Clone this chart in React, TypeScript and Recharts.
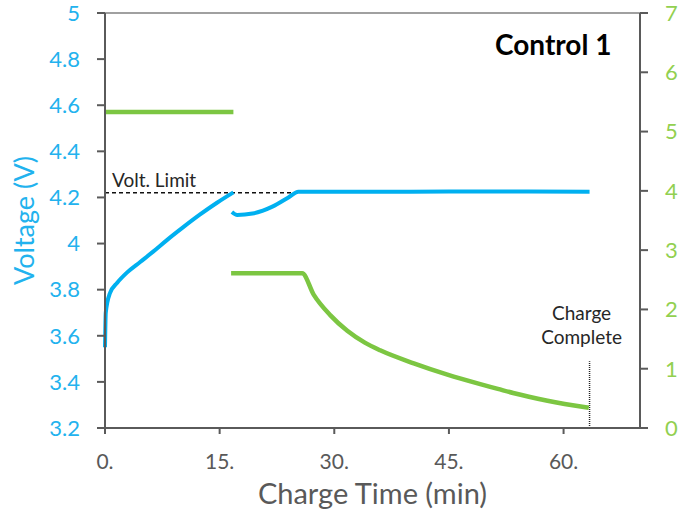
import { LineChart, Line, XAxis, YAxis, ReferenceLine } from 'recharts';

// charge time (min) / voltage (V), constant-current phase
const ccTime = [0, 0.1, 0.65, 1.6, 2.9, 4.6, 6.3, 8.1, 10.2, 12.4, 14.7, 16.8];
const ccVolt = [3.55, 3.7, 3.785, 3.83, 3.875, 3.92, 3.965, 4.015, 4.07, 4.125, 4.178, 4.222];

// second step, rises back to the limit then holds
const cvTime = [16.6, 17.3, 19.3, 21.9, 24.0, 25.3, 30, 40, 50, 55, 63.4];
const cvVolt = [4.137, 4.124, 4.13, 4.16, 4.2, 4.225, 4.225, 4.225, 4.226, 4.226, 4.225];

// current (right axis)
const i1Time = [0, 16.8];
const i1Amp = [5.33, 5.33];
const i2Time = [16.5, 25.8, 27.3, 29.5, 31.7, 34.0, 36.0, 40.4, 44.8, 49.1, 51.4, 53.4, 57.9, 63.3];
const i2Amp = [2.61, 2.61, 2.25, 1.9, 1.64, 1.44, 1.31, 1.09, 0.9, 0.74, 0.66, 0.59, 0.46, 0.34];

const xTicks = [0, 15, 30, 45, 60];
const voltTicks = [3.2, 3.4, 3.6, 3.8, 4, 4.2, 4.4, 4.6, 4.8, 5];
const ampTicks = [0, 1, 2, 3, 4, 5, 6, 7];

const voltLimit = 4.22;
const voltLimitEnd = 25.5;
const completeTime = 63.4;
const completeTop = 3.49;

const BLUE = '#00b0f0';
const BLUE_TXT = '#22b2ee';
const GREEN = '#7cc642';
const GREEN_TXT = '#92d050';
const AXIS = '#5a5a5a';
const FONT = 'Lato, "Open Sans", sans-serif';

const zip = (xs: number[], ys: number[]) => xs.map((t, i) => ({ t, y: ys[i] }));

export default function App() {
  return (
    <div style={{ position: 'absolute', left: 0, top: 0, width: 680, height: 519, background: '#fff' }}>
      <LineChart
        width={680}
        height={519}
        margin={{ top: 13, right: 0, bottom: 0, left: 0 }}
        style={{ fontFamily: FONT }}
      >
        <XAxis
          type="number"
          dataKey="t"
          domain={[0, 70]}
          ticks={xTicks}
          tickFormatter={(v) => `${v}.`}
          height={91}
          tickSize={6}
          tickMargin={20}
          axisLine={{ stroke: AXIS, strokeWidth: 2 }}
          tickLine={{ stroke: AXIS, strokeWidth: 2 }}
          tick={{ fill: '#595959', fontSize: 21 }}
          label={{ value: 'Charge Time (min)', position: 'insideBottom', offset: 15, fill: '#595959', fontSize: 29 }}
        />
        <YAxis
          yAxisId="left"
          type="number"
          domain={[3.2, 5]}
          ticks={voltTicks}
          tickFormatter={(v) => `${Math.round(v * 10) / 10}`}
          width={105}
          tickSize={8}
          tickMargin={17}
          axisLine={{ stroke: AXIS, strokeWidth: 2 }}
          tickLine={{ stroke: AXIS, strokeWidth: 2 }}
          tick={{ fill: BLUE_TXT, fontSize: 22 }}
          label={{
            value: 'Voltage (V)',
            angle: -90,
            position: 'insideLeft',
            offset: 24,
            fill: BLUE_TXT,
            fontSize: 27,
            style: { textAnchor: 'middle' },
          }}
        />
        <YAxis
          yAxisId="right"
          orientation="right"
          type="number"
          domain={[0, 7]}
          ticks={ampTicks}
          width={40}
          tickSize={8}
          tickMargin={17}
          axisLine={{ stroke: AXIS, strokeWidth: 2 }}
          tickLine={{ stroke: AXIS, strokeWidth: 2 }}
          tick={{ fill: GREEN_TXT, fontSize: 22, textAnchor: 'start' }}
        />

        <ReferenceLine yAxisId="left" y={5} stroke="#a0a0a0" strokeWidth={2} />

        <ReferenceLine
          yAxisId="left"
          segment={[{ x: 0, y: voltLimit }, { x: voltLimitEnd, y: voltLimit }]}
          stroke="#111"
          strokeWidth={1.5}
          strokeDasharray="4 3"
          label={(p: any) => (
            <text x={p.viewBox.x + 7} y={p.viewBox.y - 6} fontSize={19} fill="#262626" fontFamily={FONT}>
              Volt. Limit
            </text>
          )}
        />

        <ReferenceLine
          yAxisId="left"
          segment={[{ x: completeTime, y: 3.2 }, { x: completeTime, y: completeTop }]}
          stroke="#222"
          strokeWidth={1.5}
          strokeDasharray="1 1"
          label={(p: any) => (
            <text x={p.viewBox.x - 8} y={p.viewBox.y} fontSize={19} fill="#262626" fontFamily={FONT} textAnchor="middle">
              <tspan x={p.viewBox.x - 8} dy={-41}>Charge</tspan>
              <tspan x={p.viewBox.x - 8} dy={24}>Complete</tspan>
            </text>
          )}
        />

        <Line yAxisId="right" data={zip(i1Time, i1Amp)} dataKey="y" stroke={GREEN} strokeWidth={4.5} dot={false} isAnimationActive={false} />
        <Line yAxisId="right" data={zip(i2Time, i2Amp)} dataKey="y" type="monotone" stroke={GREEN} strokeWidth={4.5} dot={false} isAnimationActive={false} />
        <Line yAxisId="left" data={zip(ccTime, ccVolt)} dataKey="y" type="monotone" stroke={BLUE} strokeWidth={4} dot={false} isAnimationActive={false} />
        <Line yAxisId="left" data={zip(cvTime, cvVolt)} dataKey="y" type="monotone" stroke={BLUE} strokeWidth={4} dot={false} isAnimationActive={false} />
      </LineChart>
      <div
        style={{
          position: 'absolute',
          left: 495,
          top: 27,
          fontFamily: FONT,
          fontWeight: 700,
          fontSize: 28,
          color: '#000',
        }}
      >
        Control 1
      </div>
    </div>
  );
}
